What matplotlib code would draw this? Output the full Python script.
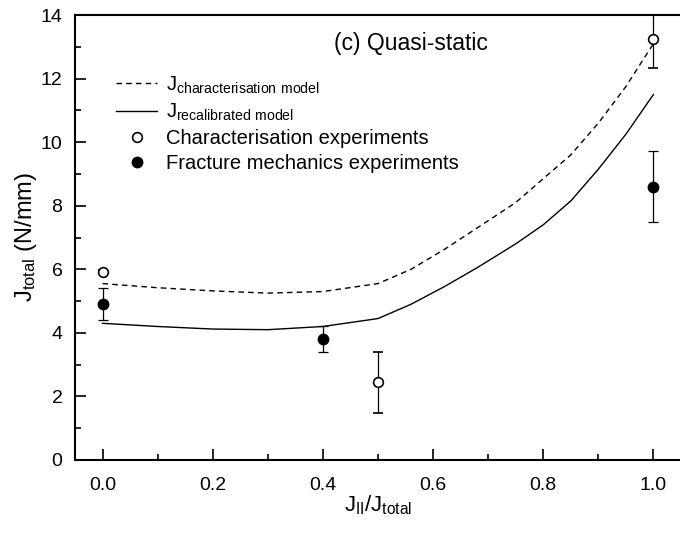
import numpy as np
import matplotlib.pyplot as plt
from matplotlib.lines import Line2D
from matplotlib.ticker import MultipleLocator

plt.rcParams['font.family'] = ['Liberation Sans', 'DejaVu Sans']
plt.rcParams['mathtext.default'] = 'regular'

# model curves
x_model = [0.0, 0.1, 0.2, 0.3, 0.4, 0.5, 0.56, 0.62, 0.68, 0.75, 0.8, 0.85, 0.9, 0.95, 1.0]
j_char = [5.55, 5.42, 5.32, 5.25, 5.3, 5.55, 6.0, 6.62, 7.3, 8.1, 8.85, 9.6, 10.6, 11.75, 13.1]
j_recal = [4.3, 4.2, 4.12, 4.1, 4.2, 4.45, 4.9, 5.45, 6.05, 6.8, 7.4, 8.15, 9.15, 10.25, 11.5]

# characterisation experiments (open)
x_char = [0.0, 0.5, 1.0]
y_char = [5.93, 2.45, 13.24]
e_char = [0.05, 0.96, 0.91]

# fracture mechanics experiments (filled)
x_frac = [0.0, 0.4, 1.0]
y_frac = [4.92, 3.8, 8.6]
e_frac = [0.5, 0.41, 1.12]

fig = plt.figure(figsize=(6.8, 5.33), dpi=100)
ax = fig.add_axes([75 / 680, 73 / 533, 606 / 680, 445 / 533])

ax.plot(x_model, j_char, 'k--', lw=1.0, dashes=(4, 3))
ax.plot(x_model, j_recal, 'k-', lw=1.0)

ax.errorbar(x_char, y_char, yerr=e_char, fmt='o', mfc='white', mec='black',
            mew=1.2, ms=7, ecolor='black', elinewidth=0.9, capsize=3.5, capthick=0.9)
ax.errorbar(x_frac, y_frac, yerr=e_frac, fmt='o', mfc='black', mec='black',
            ms=7.5, ecolor='black', elinewidth=0.9, capsize=3.5, capthick=0.9)

ax.set_xlim(-0.05, 1.05)
ax.set_ylim(0, 14)
ax.xaxis.set_major_locator(MultipleLocator(0.2))
ax.xaxis.set_minor_locator(MultipleLocator(0.1))
ax.yaxis.set_major_locator(MultipleLocator(2))
ax.yaxis.set_minor_locator(MultipleLocator(1))
ax.tick_params(which='both', direction='in', labelsize=14, width=1.2)
ax.tick_params(which='major', length=8)
ax.tick_params(axis='x', which='major', pad=12)
ax.tick_params(axis='y', which='major', pad=9)
ax.tick_params(which='minor', length=4)
ax.set_xticks([0.0, 0.2, 0.4, 0.6, 0.8, 1.0])
ax.set_xticklabels(['0.0', '0.2', '0.4', '0.6', '0.8', '1.0'])
ax.spines['right'].set_visible(False)
for s in ['left', 'bottom', 'top']:
    ax.spines[s].set_linewidth(1.5)

ax.set_xlabel('$J_{II}/J_{total}$', fontsize=16, labelpad=0)
ax.set_ylabel('$J_{total}$ (N/mm)', fontsize=17, labelpad=1)

ax.text(0.42, 13.1, '(c) Quasi-static', fontsize=16.5, va='center')

handles = [
    Line2D([], [], color='black', ls='--', lw=1.0, dashes=(4, 3)),
    Line2D([], [], color='black', ls='-', lw=1.0),
    Line2D([], [], ls='none', marker='o', mfc='white', mec='black', mew=1.2, ms=7),
    Line2D([], [], ls='none', marker='o', mfc='black', mec='black', ms=7.5),
]
labels = [
    'J$_{characterisation\\ model}$',
    'J$_{recalibrated\\ model}$',
    'Characterisation experiments',
    'Fracture mechanics experiments',
]
ax.legend(handles, labels, loc='upper left', bbox_to_anchor=(0.055, 0.885),
          frameon=False, fontsize=14.5, handlelength=2.0, handletextpad=0.45,
          labelspacing=0.3, borderaxespad=0)

fig.savefig('out.png', dpi=100)
